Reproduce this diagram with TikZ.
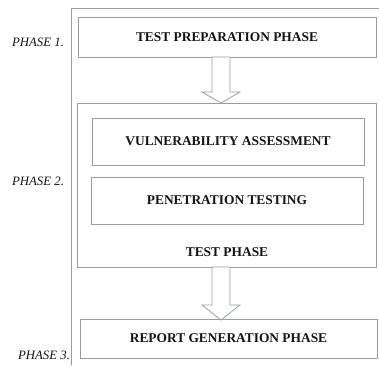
\documentclass[tikz,border=0pt]{standalone}
\usepackage{fontspec}
\setmainfont{Liberation Serif}
\definecolor{framegray}{RGB}{155,155,155}
\definecolor{arrowgray}{RGB}{150,160,175}
\definecolor{txt}{RGB}{20,20,20}
\tikzset{
  box/.style={draw=framegray, line width=0.9pt, rectangle, inner sep=0pt},
  boxtext/.style={text=txt, font=\fontsize{13.4}{15}\selectfont\bfseries},
  phaselabel/.style={text=txt, font=\fontsize{12.8}{14}\selectfont\itshape, inner sep=0pt},
  bigarrow/.style={draw=arrowgray, line width=0.8pt, fill=white, line join=miter}
}
\begin{document}
\begin{tikzpicture}[x=1pt,y=-1pt]
\useasboundingbox (0,0) rectangle (379,365);
\fill[white] (0,0) rectangle (379,365);
% partial outer frame
\coordinate (fbot) at (71,365);
\coordinate (fcorner) at (71,8);
\coordinate (fright) at (379,8);
\draw[draw=framegray, line width=0.8pt] (fbot) -- (fcorner) -- (fright);
% boxes
\node[box, boxtext, minimum width=298pt, minimum height=40pt] (b1) at (227,37) {TEST PREPARATION PHASE};
\node[box, minimum width=299pt, minimum height=164pt] (b2) at (226.5,185) {};
\node[box, boxtext, minimum width=272pt, minimum height=47pt] (va) at (228,141.5) {VULNERABILITY ASSESSMENT};
\node[box, boxtext, minimum width=272pt, minimum height=47pt] (pt) at (227,200.5) {PENETRATION TESTING};
\node[boxtext, inner sep=0pt] (tp) at (227,252) {TEST PHASE};
\node[box, boxtext, minimum width=297pt, minimum height=39pt] (b3) at (228.5,338.5) {REPORT GENERATION PHASE};
% phase labels
\node[phaselabel] (p1) at (38,42) {PHASE 1.};
\node[phaselabel] (p2) at (38,181) {PHASE 2.};
\node[phaselabel] (p3) at (44,355) {PHASE 3.};
% block arrows
\draw[bigarrow] (212,57) -- (230,57) -- (230,92) -- (240,92) -- (221,103) -- (202,92) -- (212,92) -- cycle;
\draw[bigarrow] (212,267) -- (230,267) -- (230,305) -- (240,305) -- (221,320) -- (202,305) -- (212,305) -- cycle;
\end{tikzpicture}
\end{document}
